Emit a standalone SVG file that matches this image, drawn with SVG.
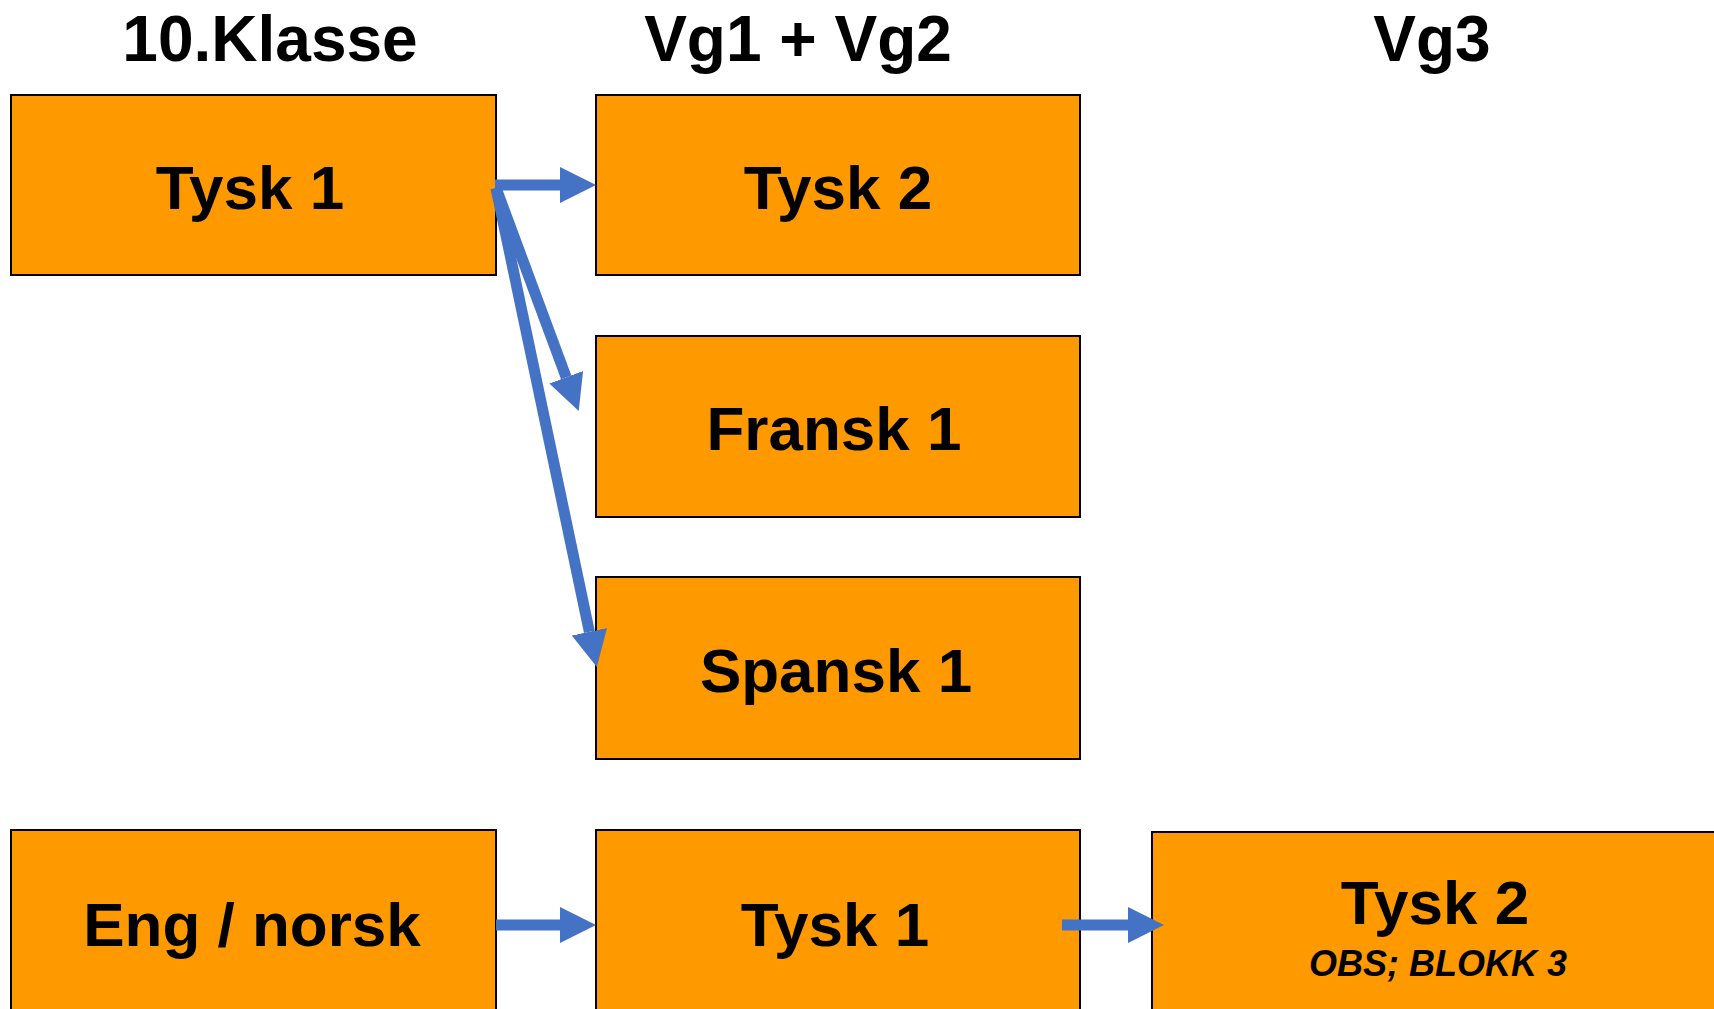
<svg xmlns="http://www.w3.org/2000/svg" width="1714" height="1009" viewBox="0 0 1714 1009">
<style>
.box{fill:#FF9900;stroke:#000;stroke-width:2}
.lbl{font-family:"Liberation Sans",Arial,sans-serif;font-weight:bold;font-size:62px;fill:#000;text-anchor:middle}
.hdr{font-family:"Liberation Sans",Arial,sans-serif;font-weight:bold;font-size:64px;fill:#000;text-anchor:middle}
.note{font-family:"Liberation Sans",Arial,sans-serif;font-weight:bold;font-style:italic;font-size:36px;fill:#000;text-anchor:middle}
.arr{stroke:#4472C4;stroke-width:11;fill:none;marker-end:url(#ah)}
</style>
<defs>
<marker id="ah" markerUnits="userSpaceOnUse" markerWidth="37" markerHeight="37" refX="0" refY="18" orient="auto" viewBox="0 0 37 36">
<path d="M0,0 L36,18 L0,36 z" fill="#4472C4"/>
</marker>
</defs>
<rect width="1714" height="1009" fill="#fff"/>
<g id="headers">
<text class="hdr" x="270" y="61">10.Klasse</text>
<text class="hdr" x="798" y="61">Vg1 + Vg2</text>
<text class="hdr" x="1432" y="61">Vg3</text>
</g>
<g id="n-tysk1">
<rect class="box" x="11" y="95" width="485" height="180"/>
<text class="lbl" x="250" y="209">Tysk 1</text>
</g>
<g id="n-tysk2">
<rect class="box" x="596" y="95" width="484" height="180"/>
<text class="lbl" x="838" y="209">Tysk 2</text>
</g>
<g id="n-fransk1">
<rect class="box" x="596" y="336" width="484" height="181"/>
<text class="lbl" x="834" y="450">Fransk 1</text>
</g>
<g id="n-spansk1">
<rect class="box" x="596" y="577" width="484" height="182"/>
<text class="lbl" x="836" y="692">Spansk 1</text>
</g>
<g id="n-engnorsk">
<rect class="box" x="11" y="830" width="485" height="190"/>
<text class="lbl" x="252" y="946">Eng / norsk</text>
</g>
<g id="n-tysk1b">
<rect class="box" x="596" y="830" width="484" height="190"/>
<text class="lbl" x="835" y="946">Tysk 1</text>
</g>
<g id="n-tysk2b">
<rect class="box" x="1152" y="832" width="580" height="190"/>
<text class="lbl" x="1435" y="924">Tysk 2</text>
<text class="note" x="1438" y="976">OBS; BLOKK 3</text>
</g>
<g id="connectors">
<line class="arr" x1="495" y1="185" x2="560" y2="185"/>
<line class="arr" x1="496" y1="188" x2="566.2" y2="377.3"/>
<line class="arr" x1="496" y1="188" x2="589.4" y2="631.8"/>
<line class="arr" x1="496" y1="925" x2="560" y2="925"/>
<line class="arr" x1="1062" y1="925" x2="1128" y2="925"/>
</g>
</svg>
